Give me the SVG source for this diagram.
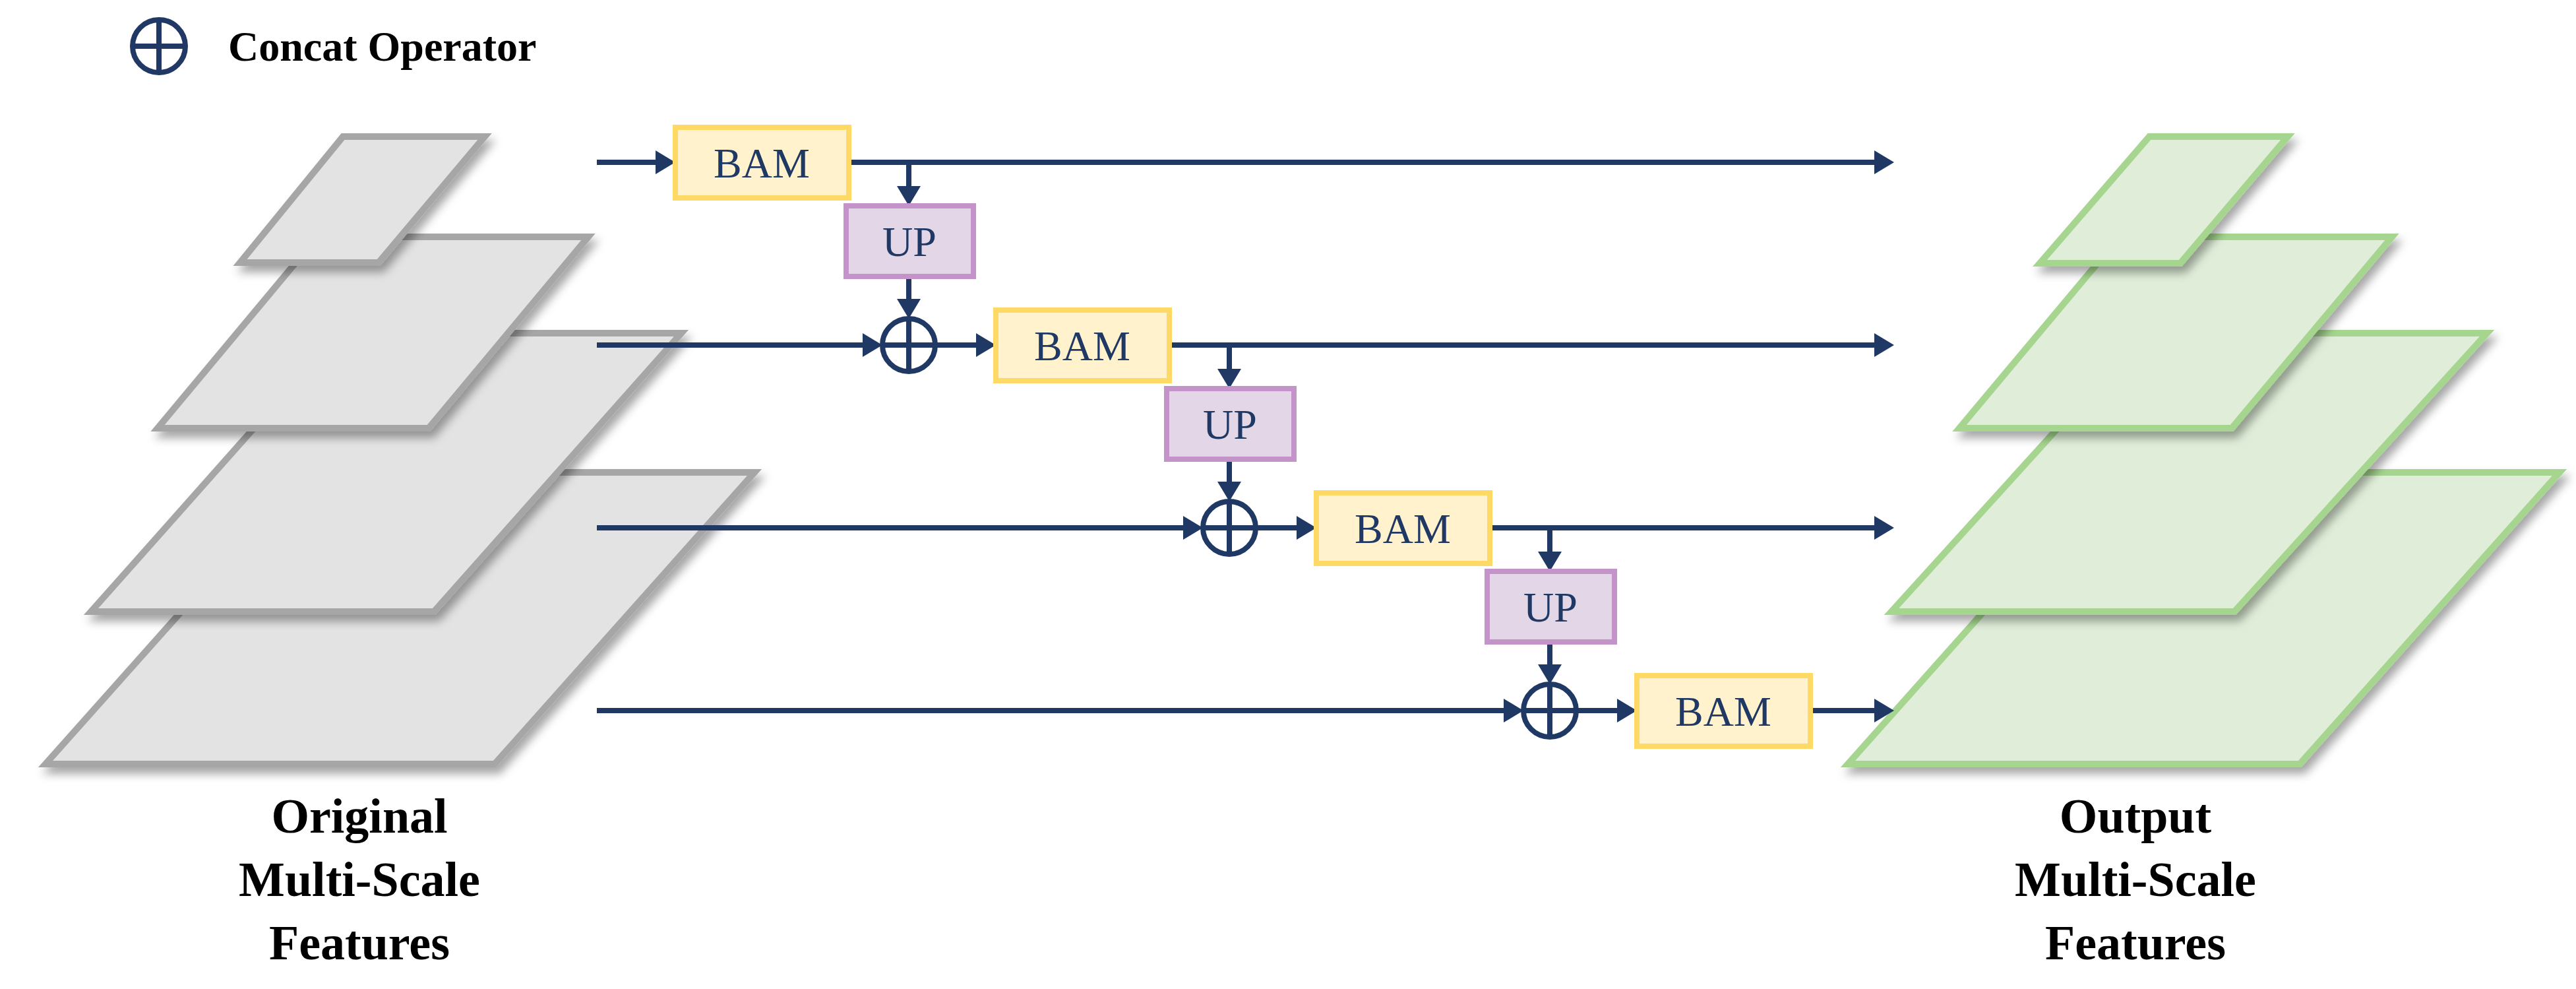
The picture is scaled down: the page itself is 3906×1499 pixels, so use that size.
<svg xmlns="http://www.w3.org/2000/svg" width="3906" height="1499" viewBox="0 0 3906 1499">
<style>
.g{fill:#e3e3e3;stroke:#a6a6a6;stroke-width:10;filter:url(#sh)}
.gr{fill:#e0eed9;stroke:#a5d58f;stroke-width:10;filter:url(#sh)}
.bam{fill:#fff2cc;stroke:#ffd966;stroke-width:8}
.up{fill:#e3d6e6;stroke:#c493c9;stroke-width:8}
.bt{font-family:"Liberation Serif",serif;font-size:64px;fill:#1f3864;text-anchor:middle}
.c{fill:#fff;stroke:#1f3864;stroke-width:8}
.ln{fill:none;stroke:#1f3864;stroke-width:8}
.lab{font-family:"Liberation Serif",serif;font-weight:bold;font-size:74px;fill:#000;text-anchor:middle}
</style>
<defs>
<filter id="sh" x="-10%" y="-10%" width="130%" height="130%"><feDropShadow dx="6" dy="10" stdDeviation="7" flood-color="#000" flood-opacity="0.35"/></filter>
<marker id="ah" markerUnits="userSpaceOnUse" markerWidth="30" markerHeight="36" refX="10" refY="18" orient="auto"><path d="M0,0 L30,18 L0,36 z" fill="#1f3864"/></marker>
</defs>
<rect width="3906" height="1499" fill="#fff"/>
<g id="legend">
<circle class="c" cx="241" cy="70" r="40"/><path class="ln" d="M201,70H281M241,30V110"/>
<text x="346" y="92" font-family="Liberation Serif,serif" font-weight="bold" font-size="64" fill="#000">Concat Operator</text>
</g>
<g id="input-features">
<polygon class="g" points="463,716 1144,716 750,1158 69,1158"/>
<polygon class="g" points="513,505 1033,505 658,927 138,927"/>
<polygon class="g" points="481,359 892,359 650,649 239,649"/>
<polygon class="g" points="520,207 735,207 574,398 364,398"/>
</g>
<g id="output-features">
<polygon class="gr" points="3196,716 3881,716 3487,1158 2802,1158"/>
<polygon class="gr" points="3251,505 3771,505 3388,927 2868,927"/>
<polygon class="gr" points="3214,359 3627,359 3384,649 2971,649"/>
<polygon class="gr" points="3259,207 3469,207 3306,399 3093,399"/>
</g>
<g id="connectors" class="ln" marker-end="url(#ah)">
<path d="M905,246H1004" marker-end="url(#ah)"/>
<path d="M1289,246H2852" marker-end="url(#ah)"/>
<path d="M1378,246V292" marker-end="url(#ah)"/>
<path d="M1378,419V463" marker-end="url(#ah)"/>
<path d="M905,523H1318" marker-end="url(#ah)"/>
<path d="M1418,523H1490" marker-end="url(#ah)"/>
<path d="M1775,523H2852" marker-end="url(#ah)"/>
<path d="M1864,523V569" marker-end="url(#ah)"/>
<path d="M1864,696V740" marker-end="url(#ah)"/>
<path d="M905,800H1804" marker-end="url(#ah)"/>
<path d="M1904,800H1976" marker-end="url(#ah)"/>
<path d="M2261,800H2852" marker-end="url(#ah)"/>
<path d="M2350,800V846" marker-end="url(#ah)"/>
<path d="M2350,973V1017" marker-end="url(#ah)"/>
<path d="M905,1077H2290" marker-end="url(#ah)"/>
<path d="M2390,1077H2462" marker-end="url(#ah)"/>
<path d="M2747,1077H2852" marker-end="url(#ah)"/>
</g>
<g id="bam1"><rect class="bam" x="1024" y="193" width="263" height="107"/><text class="bt" x="1155" y="269">BAM</text></g>
<g id="up1"><rect class="up" x="1283" y="312" width="193" height="107"/><text class="bt" x="1379" y="388">UP</text></g>
<g id="concat1"><circle class="c" cx="1378" cy="523" r="40"/><path class="ln" d="M1338,523H1418M1378,483V563"/></g>
<g id="bam2"><rect class="bam" x="1510" y="470" width="263" height="107"/><text class="bt" x="1641" y="546">BAM</text></g>
<g id="up2"><rect class="up" x="1769" y="589" width="193" height="107"/><text class="bt" x="1865" y="665">UP</text></g>
<g id="concat2"><circle class="c" cx="1864" cy="800" r="40"/><path class="ln" d="M1824,800H1904M1864,760V840"/></g>
<g id="bam3"><rect class="bam" x="1996" y="747" width="263" height="107"/><text class="bt" x="2127" y="823">BAM</text></g>
<g id="up3"><rect class="up" x="2255" y="866" width="193" height="107"/><text class="bt" x="2351" y="942">UP</text></g>
<g id="concat3"><circle class="c" cx="2350" cy="1077" r="40"/><path class="ln" d="M2310,1077H2390M2350,1037V1117"/></g>
<g id="bam4"><rect class="bam" x="2482" y="1024" width="263" height="107"/><text class="bt" x="2613" y="1100">BAM</text></g>
<g id="label-in"><text class="lab" x="545" y="1262">Original</text><text class="lab" x="545" y="1358">Multi-Scale</text><text class="lab" x="545" y="1454">Features</text></g>
<g id="label-out"><text class="lab" x="3238" y="1262">Output</text><text class="lab" x="3238" y="1358">Multi-Scale</text><text class="lab" x="3238" y="1454">Features</text></g>
</svg>
